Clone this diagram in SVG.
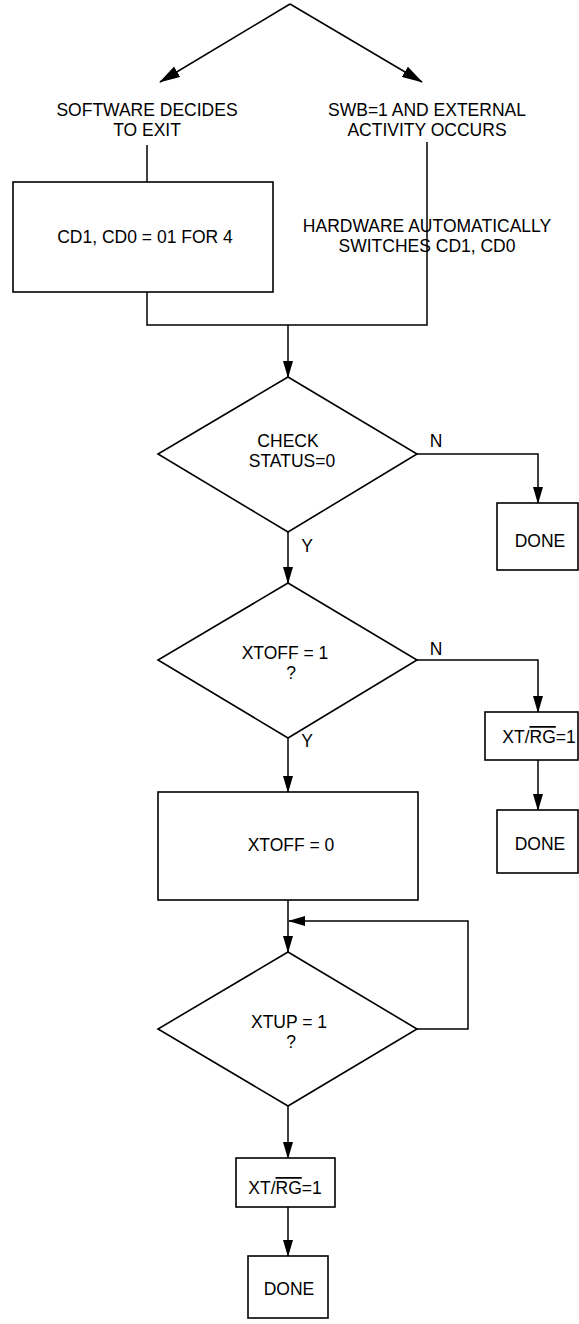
<svg xmlns="http://www.w3.org/2000/svg" width="579" height="1324" viewBox="0 0 579 1324">
<defs>
<marker id="ah" markerWidth="17" markerHeight="10" refX="16" refY="5" orient="auto" markerUnits="userSpaceOnUse">
<path d="M0,0 L17,5 L0,10 Z" fill="#000"/>
</marker>
<marker id="ahd" markerWidth="21" markerHeight="12" refX="20" refY="6" orient="auto" markerUnits="userSpaceOnUse">
<path d="M0,0 L21,6 L0,12 Z" fill="#000"/>
</marker>
<style>
.ln{fill:none;stroke:#000;stroke-width:1.5}
.bx{fill:#fff;stroke:#000;stroke-width:1.6}
.t{font-family:"Liberation Sans",Arial,Helvetica,sans-serif;font-size:17.5px;fill:#000;text-anchor:middle}
.ol{text-decoration:overline}
</style>
</defs>
<rect width="579" height="1324" fill="#fff"/>
<g id="connectors">
<line class="ln" x1="290" y1="4" x2="160" y2="82" marker-end="url(#ahd)"/>
<line class="ln" x1="290" y1="4" x2="422" y2="82" marker-end="url(#ahd)"/>
<line class="ln" x1="147" y1="145" x2="147" y2="182"/>
<polyline class="ln" points="147,292 147,325 427,325 427,142"/>
<line class="ln" x1="288" y1="325" x2="288" y2="377" marker-end="url(#ah)"/>
<polyline class="ln" points="417,454 538,454 538,503" marker-end="url(#ah)"/>
<line class="ln" x1="288" y1="532" x2="288" y2="583" marker-end="url(#ah)"/>
<polyline class="ln" points="417,660 538,660 538,712" marker-end="url(#ah)"/>
<line class="ln" x1="538" y1="760" x2="538" y2="810" marker-end="url(#ah)"/>
<line class="ln" x1="288" y1="738" x2="288" y2="792" marker-end="url(#ah)"/>
<line class="ln" x1="288" y1="900" x2="288" y2="952" marker-end="url(#ah)"/>
<polyline class="ln" points="417,1029 468,1029 468,921 289,921" marker-end="url(#ah)"/>
<line class="ln" x1="288" y1="1106" x2="288" y2="1158" marker-end="url(#ah)"/>
<line class="ln" x1="288" y1="1207" x2="288" y2="1256" marker-end="url(#ah)"/>
<text class="t" x="436" y="447">N</text>
<text class="t" x="307" y="552">Y</text>
<text class="t" x="436" y="655">N</text>
<text class="t" x="307" y="747">Y</text>
</g>
<g id="sw-exit">
<text class="t" y="116"><tspan x="147">SOFTWARE DECIDES</tspan><tspan x="147" dy="20">TO EXIT</tspan></text>
</g>
<g id="swb-ext">
<text class="t" y="116"><tspan x="427">SWB=1 AND EXTERNAL</tspan><tspan x="427" dy="20">ACTIVITY OCCURS</tspan></text>
</g>
<g id="box-cd">
<rect class="bx" x="13" y="182" width="260" height="110"/>
<text class="t" x="145" y="243">CD1, CD0 = 01 FOR 4</text>
</g>
<g id="hw-switch">
<text class="t" y="232"><tspan x="427">HARDWARE AUTOMATICALLY</tspan><tspan x="427" dy="20">SWITCHES CD1, CD0</tspan></text>
</g>
<g id="d-status">
<polygon class="bx" points="288,377 417,454 288,532 158,454"/>
<text class="t" y="447"><tspan x="288">CHECK</tspan><tspan x="292" dy="20">STATUS=0</tspan></text>
</g>
<g id="done1">
<rect class="bx" x="497" y="503" width="81" height="67"/>
<text class="t" x="540" y="547">DONE</text>
</g>
<g id="d-xtoff">
<polygon class="bx" points="288,583 417,660 288,738 158,660"/>
<text class="t" y="659"><tspan x="285">XTOFF = 1</tspan><tspan x="291" dy="20">?</tspan></text>
</g>
<g id="xtrg1">
<rect class="bx" x="485" y="712" width="93" height="48"/>
<text class="t" x="539" y="743">XT/<tspan class="ol">RG</tspan>=1</text>
</g>
<g id="done2">
<rect class="bx" x="497" y="810" width="81" height="63"/>
<text class="t" x="540" y="850">DONE</text>
</g>
<g id="box-xtoff">
<rect class="bx" x="158" y="792" width="260" height="108"/>
<text class="t" x="291" y="851">XTOFF = 0</text>
</g>
<g id="d-xtup">
<polygon class="bx" points="288,952 417,1029 288,1106 158,1029"/>
<text class="t" y="1028"><tspan x="289">XTUP = 1</tspan><tspan x="291" dy="20">?</tspan></text>
</g>
<g id="xtrg2">
<rect class="bx" x="236" y="1158" width="99" height="49"/>
<text class="t" x="285" y="1194">XT/<tspan class="ol">RG</tspan>=1</text>
</g>
<g id="done3">
<rect class="bx" x="248" y="1256" width="80" height="62"/>
<text class="t" x="289" y="1295">DONE</text>
</g>
</svg>
